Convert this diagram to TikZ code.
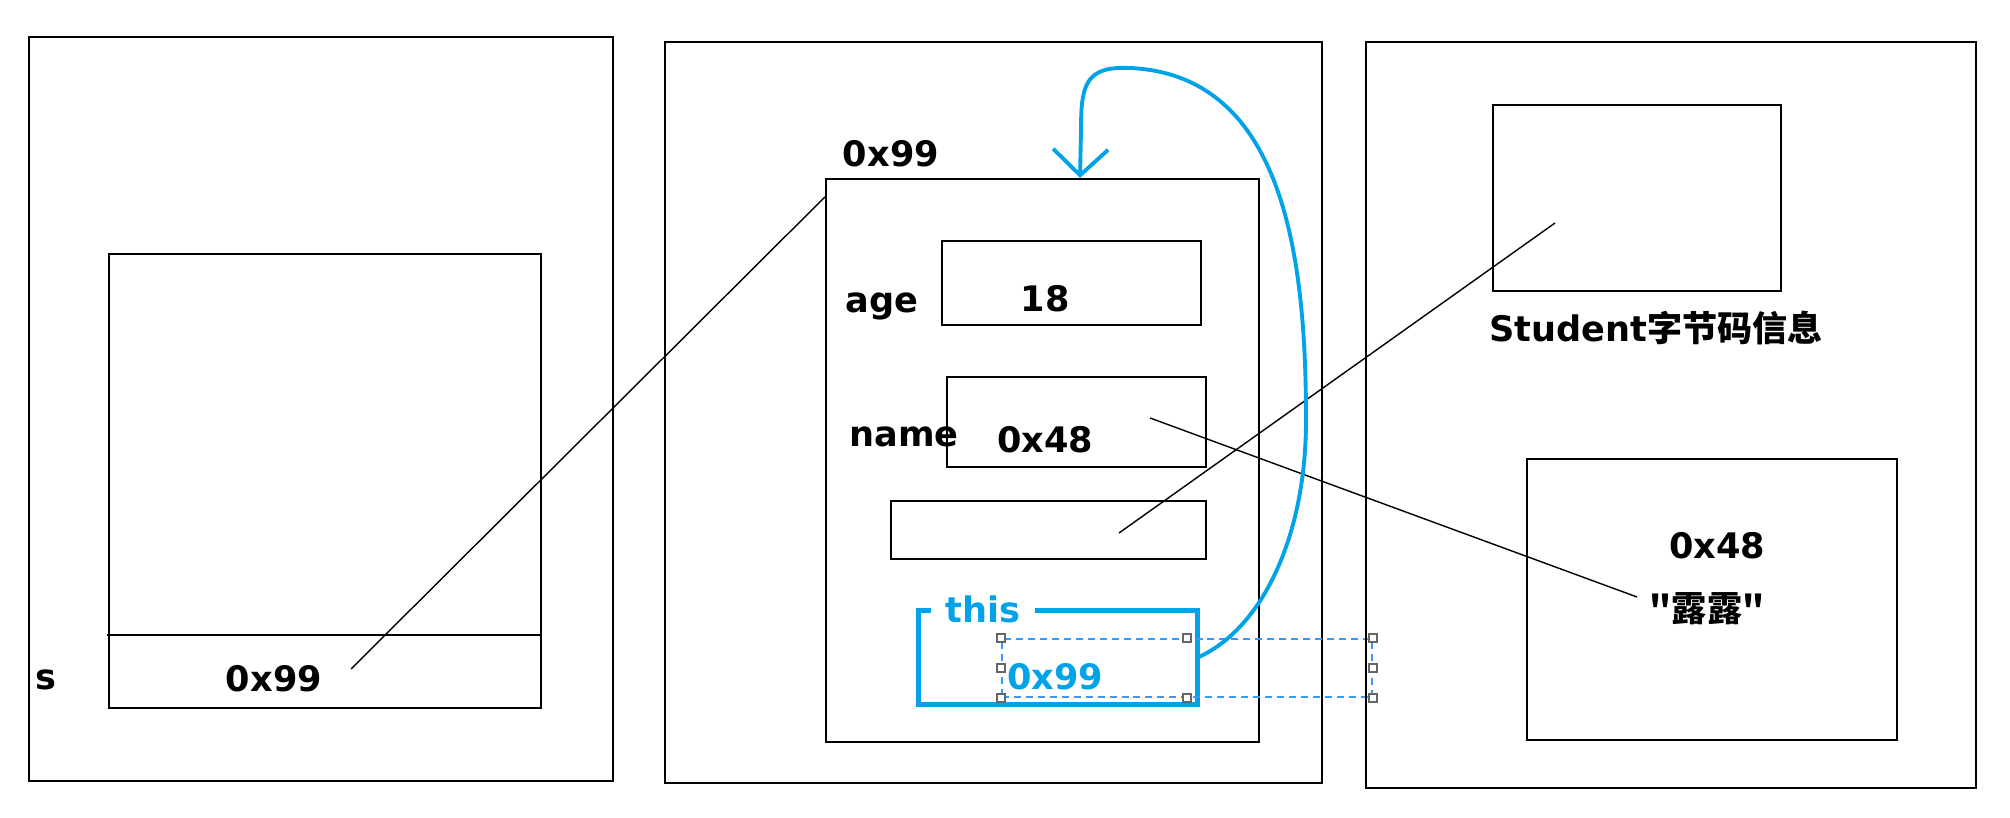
\documentclass[tikz,border=0pt]{standalone}
\usepackage{fontspec}
\setmainfont{DejaVu Sans}
\newfontfamily\cjk{Noto Sans CJK SC}
\usetikzlibrary{arrows.meta}

\definecolor{paintblue}{RGB}{0,162,232}
\definecolor{selblue}{RGB}{51,153,255}
\tikzstyle{box} = [draw, line width=0.6pt, inner sep=0pt]
\tikzstyle{lbl} = [font=\fontsize{10}{12}\selectfont\bfseries, inner sep=0pt, anchor=base]

\begin{document}
\begin{tikzpicture}[panel/.style={box},
		link/.style={line width=0.4pt},
		thisline/.style={draw=paintblue, line width=1.4pt},
		selbox/.style={draw=selblue, dash pattern=on 2pt off 1.4pt, line width=0.4pt, inner sep=0pt},
		handle/.style={draw=black!60, fill=white, line width=0.5pt, minimum size=2.3pt, inner sep=0pt}]
		\useasboundingbox (0,0) rectangle (20.10,-8.18);
		\node (stack) [panel, minimum width=5.84cm, minimum height=7.44cm] at (3.21,-4.09) {};
		\node (frame) [box, minimum width=4.32cm, minimum height=4.54cm] at (3.25,-4.81) {};
		\coordinate (slotl) at (1.07,-6.35);
		\draw [line width=0.6pt] (slotl) -- (slotl -| frame.east);
		\node (svar) [lbl] at (0.46,-6.89) {s};
		\node (sval) [lbl] at (2.74,-6.91) {0x99};
		\node (heap) [panel, minimum width=6.57cm, minimum height=7.41cm] at (9.935,-4.125) {};
		\node (obj) [box, minimum width=4.33cm, minimum height=5.63cm] at (10.425,-4.605) {};
		\node (objaddr) [lbl] at (8.91,-1.67) {0x99};
		\node (agebox) [box, minimum width=2.59cm, minimum height=0.84cm] at (10.715,-2.83) {};
		\node (agekey) [lbl] at (8.82,-3.13) {age};
		\node (ageval) [lbl] at (10.45,-3.12) {18};
		\node (namebox) [box, minimum width=2.59cm, minimum height=0.90cm] at (10.765,-4.22) {};
		\node (namekey) [lbl] at (9.04,-4.47) {name};
		\node (nameval) [lbl] at (10.45,-4.53) {0x48};
		\node (slot) [box, minimum width=3.15cm, minimum height=0.58cm] at (10.485,-5.30) {};
		\node (thisbox) [minimum width=2.78cm, minimum height=0.93cm, inner sep=0pt] at (10.58,-6.575) {};
		\draw [thisline] (thisbox.north west) rectangle (thisbox.south east);
		\node (thislbl) [lbl, text=paintblue, fill=white, inner xsep=1.5mm, inner ysep=0.5pt] at (9.83,-6.23) {this};
		\node (sel) [selbox, minimum width=3.70cm, minimum height=0.58cm] at (11.87,-6.68) {};
		\node [handle] at (sel.north west) {};
		\node [handle] at (sel.north) {};
		\node [handle] at (sel.north east) {};
		\node [handle] at (sel.west) {};
		\node [handle] at (sel.east) {};
		\node [handle] at (sel.south west) {};
		\node [handle] at (sel.south) {};
		\node [handle] at (sel.south east) {};
		\node (thisval) [lbl, text=paintblue] at (10.55,-6.90) {0x99};
		\node (method) [panel, minimum width=6.10cm, minimum height=7.46cm] at (16.71,-4.15) {};
		\node (klass) [box, minimum width=2.88cm, minimum height=1.86cm] at (16.37,-1.98) {};
		\node (klasslbl) [lbl] at (16.56,-3.42) {Student{\cjk 字节码信息}};
		\node (strbox) [box, minimum width=3.70cm, minimum height=2.81cm] at (17.12,-5.995) {};
		\node (straddr) [lbl] at (17.17,-5.59) {0x48};
		\node (strval) [lbl] at (17.07,-6.22) {\cjk "露露"};
		\coordinate (sptr) at (3.51,-6.69);
		\coordinate (nameptr) at (11.50,-4.18);
		\coordinate (strptr) at (16.37,-5.97);
		\coordinate (slotptr) at (11.19,-5.33);
		\coordinate (klassptr) at (15.55,-2.23);
		\draw [link] (sptr) -- ([yshift=-1.9mm]obj.north west);
		\draw [link] (nameptr) -- (strptr);
		\draw [link] (slotptr) -- (klassptr);
		\draw [thisline, line width=1.1pt, -{Straight Barb[length=2.6mm,width=5.5mm]}] (thisbox.east) .. controls (12.6,-6.3) and (13.06,-5.4) .. (13.06,-4.2) .. controls (13.06,-2.6) and (12.85,-0.75) .. (11.3,-0.68) .. controls (10.85,-0.66) and (10.81,-0.85) .. (10.81,-1.3) -- ([xshift=3.75mm]obj.north);
	\end{tikzpicture}
\end{document}
